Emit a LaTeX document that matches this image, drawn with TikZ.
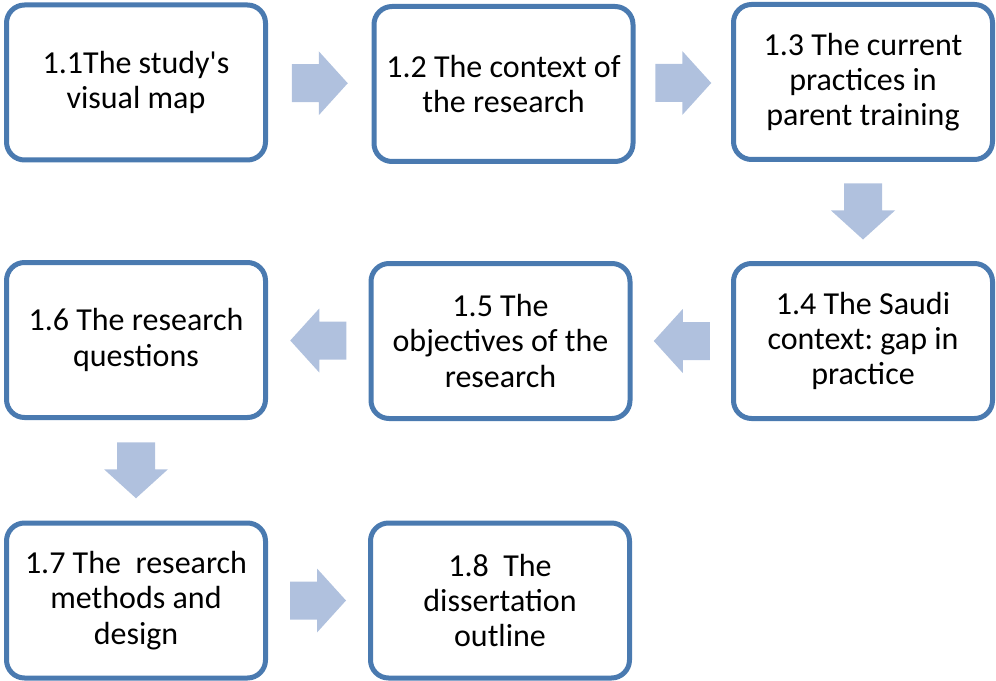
\documentclass[tikz,border=0pt]{standalone}
\usepackage{fontspec}
\setmainfont{Carlito}
\usetikzlibrary{calc}
\definecolor{boxblue}{RGB}{74,122,176}
\definecolor{arrowblue}{RGB}{176,193,222}
\frenchspacing
\begin{document}
\begin{tikzpicture}[x=0.75pt,y=-0.75pt,
  box/.style={draw=boxblue, line width=3.75pt, rounded corners=13.5pt, fill=white,
    minimum width=194.25pt, minimum height=116.25pt, align=center, inner sep=0pt,
    font=\fontsize{24}{26.5}\selectfont},
  rarrow/.pic={\fill[arrowblue] (-28,-19) -- (-1,-19) -- (-1,-32) -- (28,0) -- (-1,32) -- (-1,19) -- (-28,19) -- cycle;}]
\useasboundingbox (0,0) rectangle (996,681);
\node[box] (b1) at (136,82.5) {1.1The study\textquotesingle s\\visual map};
\node[box] (b2) at (503.5,84) {1.2 The context of\\the research};
\node[box] (b3) at (863,82) {1.3 The current\\practices in\\parent training};
\node[box] (b4) at (863,341) {1.4 The Saudi\\context: gap in\\practice};
\node[box] (b5) at (500.5,341) {1.5 The\\objectives of the\\research};
\node[box] (b6) at (136,340) {1.6 The research\\questions};
\node[box] (b7) at (136,600.5) {1.7 The\ \ research\\methods and\\design};
\node[box] (b8) at (500,600.5) {1.8\ \ The\\dissertation\\outline};
\pic at ($(b1.east)!0.5!(b2.west)$) {rarrow};
\pic at ($(b2.east)!0.5!(b3.west)$) {rarrow};
\pic[rotate=-90] at ($(b3.south)!0.5!(b4.north)$) {rarrow};
\pic[rotate=180] at ($(b4.west)!0.5!(b5.east)$) {rarrow};
\pic[rotate=180] at ($(b5.west)!0.5!(b6.east)$) {rarrow};
\pic[rotate=-90] at ($(b6.south)!0.5!(b7.north)$) {rarrow};
\pic at ($(b7.east)!0.5!(b8.west)$) {rarrow};
\end{tikzpicture}
\end{document}
